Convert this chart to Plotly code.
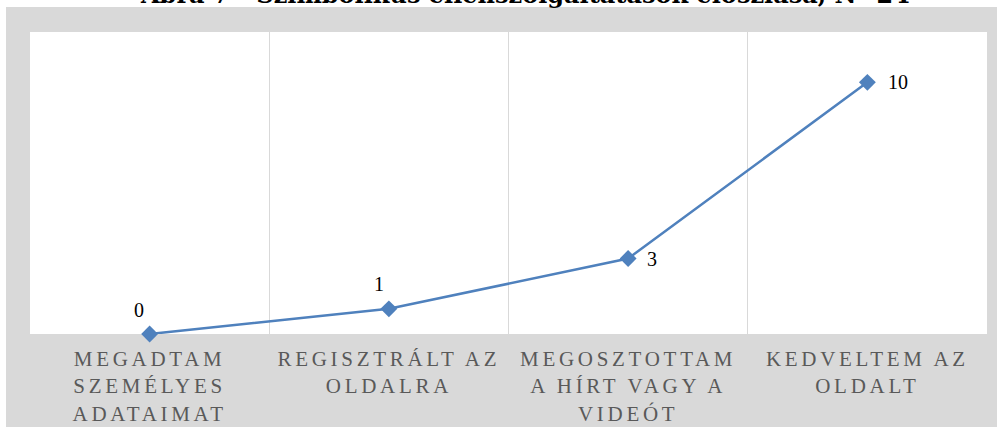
import plotly.graph_objects as go

categories = [
    "MEGADTAM<br>SZEMÉLYES<br>ADATAIMAT",
    "REGISZTRÁLT AZ<br>OLDALRA",
    "MEGOSZTOTTAM<br>A HÍRT VAGY A<br>VIDEÓT",
    "KEDVELTEM AZ<br>OLDALT",
]
values = [0, 1, 3, 10]
title_text = "Ábra 7 - Szimbolikus ellenszolgáltatások eloszlása, N=24"

BLUE = "#4f81bd"
GRAY = "#d9d9d9"

fig = go.Figure()
fig.add_trace(go.Scatter(
    x=categories, y=values, mode="lines+markers",
    line=dict(color=BLUE, width=2.5),
    marker=dict(symbol="diamond", size=13, color=BLUE),
    cliponaxis=False, hoverinfo="skip", showlegend=False,
))

# data labels
label_shift = [(-11, 24), (-10, 25), (24, 0), (31, 0)]
for c, v, (dx, dy) in zip(categories, values, label_shift):
    fig.add_annotation(x=c, y=v, text=str(v), showarrow=False,
                       xshift=dx, yshift=dy,
                       font=dict(family="Liberation Serif", size=20, color="#000000"))

W, H = 1003, 433
L, R, T, B = 30, 16, 32, 99
pw, ph = W - L - R, H - T - B

def px(x):
    return (x - L) / pw

def py(y):
    return (H - B - y) / ph

# gray frame and white plot area
fig.add_shape(type="rect", xref="paper", yref="paper",
              x0=px(6), x1=px(997), y0=py(427), y1=py(7),
              fillcolor=GRAY, line=dict(width=0), layer="below")
fig.add_shape(type="rect", xref="paper", yref="paper",
              x0=0, x1=1, y0=0, y1=1,
              fillcolor="white", line=dict(width=0), layer="below")

# title (cut off at the top of the image, as in the source)
fig.add_annotation(xref="paper", yref="paper", x=px(525), y=py(11),
                   xanchor="center", yanchor="bottom", showarrow=False,
                   text="<b>" + title_text + "</b>",
                   font=dict(family="DejaVu Serif", size=24, color="#000000"))

fig.update_xaxes(
    type="category", range=[-0.5, 3.5], tickson="boundaries",
    showgrid=True, gridcolor=GRAY, gridwidth=1,
    ticks="", showline=False, zeroline=False,
    ticklabelstandoff=10, automargin=False,
    tickfont=dict(family="Liberation Serif", size=21, color="#595959"),
)
fig.update_yaxes(range=[0, 12], visible=False, showgrid=False,
                 zeroline=False, automargin=False)

fig.update_layout(
    width=W, height=H,
    margin=dict(l=L, r=R, t=T, b=B, autoexpand=False),
    paper_bgcolor="white", plot_bgcolor="white",
)

post = """
document.body.style.margin = '0';
var gd = document.getElementById('{plot_id}');
function sp(){ gd.querySelectorAll('.xtick text').forEach(function(t){ t.style.letterSpacing='3.7px'; }); }
sp();
if (gd.on) { gd.on('plotly_afterplot', sp); }
"""

fig.write_html("out.html", post_script=post,
               config={"displayModeBar": False, "responsive": False})
